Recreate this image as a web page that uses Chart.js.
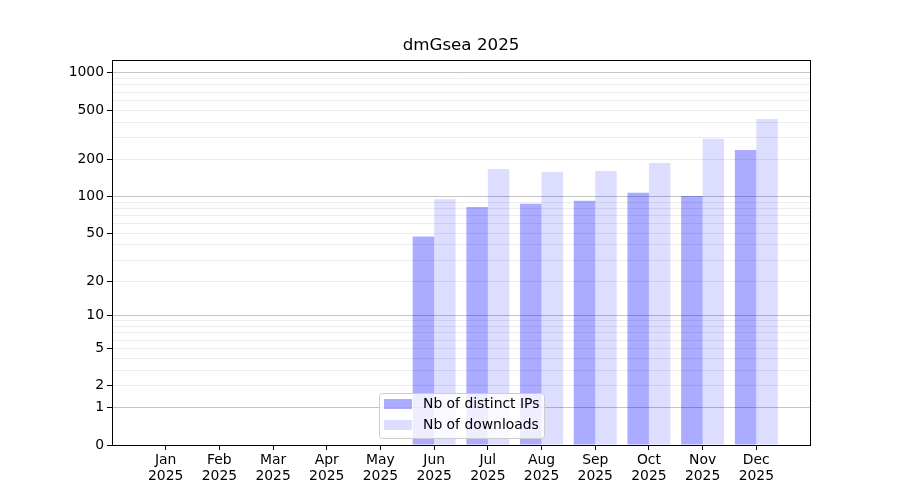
<!DOCTYPE html>
<html>
<head>
<meta charset="utf-8">
<script src="https://cdn.jsdelivr.net/npm/chart.js@4"></script>
<style>
  html, body { margin: 0; padding: 0; background: #fff; }
  #wrap { width: 900px; height: 500px; }
</style>
</head>
<body>
<div id="wrap"><canvas id="downloadsChart" width="900" height="500"></canvas></div>
<script>
// data
const months = ['Jan', 'Feb', 'Mar', 'Apr', 'May', 'Jun', 'Jul', 'Aug', 'Sep', 'Oct', 'Nov', 'Dec'];
const year = '2025';
const distinctIPs = [0, 0, 0, 0, 0, 47, 82, 87, 92, 107, 101, 238];
const downloads = [0, 0, 0, 0, 0, 95, 167, 158, 161, 187, 293, 425];
const yLabelled = [0, 1, 2, 5, 10, 20, 50, 100, 200, 500, 1000];
const yMajor = [1, 10, 100, 1000];
const yMinor = [3, 4, 6, 7, 8, 9, 30, 40, 60, 70, 80, 90, 300, 400, 600, 700, 800, 900];
const yTop = 1270;

// axis is log10(value + 1), like the original
const tr = v => Math.log10(v + 1);
const toPoints = arr => arr.map((v, i) => ({ x: i, y: tr(v) }));

const FONT = 'DejaVu Sans';
const FS = 13.9;

const frameAndExtras = {
  id: 'frameAndExtras',
  afterDraw(chart) {
    const ctx = chart.ctx;
    const a = chart.chartArea;
    ctx.save();
    // all four spines
    ctx.strokeStyle = '#000';
    ctx.lineWidth = 1;
    ctx.strokeRect(Math.round(a.left) + 0.5, Math.round(a.top) + 0.5,
                   Math.round(a.right - a.left), Math.round(a.bottom - a.top));

    // title
    ctx.fillStyle = '#000';
    ctx.font = '16.7px "' + FONT + '"';
    ctx.textAlign = 'center';
    ctx.textBaseline = 'middle';
    ctx.fillText('dmGsea 2025', (a.left + a.right) / 2, 46);

    // legend inside the plot, lower centre
    const bx = 379, by = 393, bw = 165, bh = 45;
    ctx.fillStyle = 'rgba(255,255,255,0.8)';
    ctx.strokeStyle = '#cccccc';
    ctx.beginPath();
    ctx.roundRect(bx + 0.5, by + 0.5, bw, bh, 3);
    ctx.fill();
    ctx.stroke();
    ctx.font = FS + 'px "' + FONT + '"';
    ctx.textAlign = 'left';
    chart.data.datasets.forEach((ds, i) => {
      const y = by + 6 + i * 21;
      ctx.fillStyle = ds.backgroundColor;
      ctx.fillRect(bx + 5, y, 28, 10);
      ctx.fillStyle = '#000';
      ctx.fillText(ds.label, bx + 44, y + 5);
    });
    ctx.restore();
  }
};

new Chart(document.getElementById('downloadsChart'), {
  type: 'bar',
  data: {
    datasets: [
      {
        label: 'Nb of distinct IPs',
        data: toPoints(distinctIPs),
        backgroundColor: 'rgba(0,0,255,0.33)',
        borderWidth: 0
      },
      {
        label: 'Nb of downloads',
        data: toPoints(downloads),
        backgroundColor: 'rgba(0,0,255,0.134)',
        borderWidth: 0
      }
    ]
  },
  options: {
    responsive: false,
    animation: false,
    layout: { padding: { left: 0, right: 90, top: 60, bottom: 0 } },
    datasets: { bar: { categoryPercentage: 0.8, barPercentage: 1.0 } },
    plugins: {
      legend: { display: false },
      title: { display: false },
      tooltip: { enabled: false }
    },
    scales: {
      x: {
        type: 'linear',
        min: -1,
        max: 12,
        offset: false,
        afterBuildTicks: scale => { scale.ticks = months.map((m, i) => ({ value: i })); },
        afterFit: scale => { scale.height = 55; },
        grid: { offset: false, drawOnChartArea: false, drawTicks: true, tickLength: 5, tickColor: '#000' },
        border: { display: true, color: '#000' },
        ticks: {
          autoSkip: false,
          maxRotation: 0,
          padding: 2,
          color: '#000',
          font: { family: FONT, size: FS, lineHeight: 1.15 },
          callback: v => [months[v], year]
        }
      },
      y: {
        type: 'linear',
        min: 0,
        max: tr(yTop),
        afterBuildTicks: scale => {
          const vals = yLabelled.concat(yMinor).sort((a, b) => a - b);
          scale.ticks = vals.map(v => ({ value: tr(v), raw: v }));
        },
        afterFit: scale => { scale.width = 112; },
        grid: {
          drawTicks: true,
          tickLength: 5,
          color: c => {
            const r = c.tick && c.tick.raw;
            if (!r) return 'rgba(0,0,0,0)';
            return yMajor.includes(r) ? '#c4c4c4' : '#ececec';
          },
          tickColor: c => (c.tick && yLabelled.includes(c.tick.raw)) ? '#000' : 'rgba(0,0,0,0)'
        },
        border: { display: true, color: '#000' },
        ticks: {
          autoSkip: false,
          padding: 3,
          color: '#000',
          font: { family: FONT, size: FS },
          callback: (v, i, ticks) => yLabelled.includes(ticks[i].raw) ? String(ticks[i].raw) : ''
        }
      }
    }
  },
  plugins: [frameAndExtras]
});
</script>
</body>
</html>
